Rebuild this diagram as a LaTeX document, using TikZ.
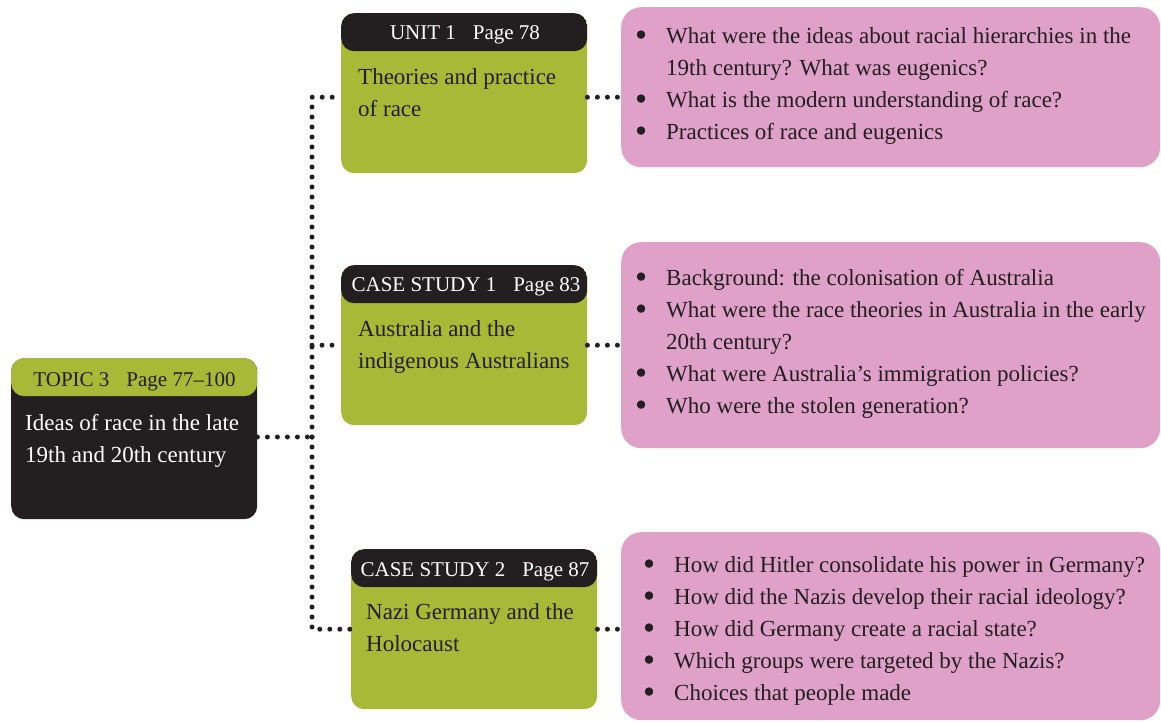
\documentclass[tikz,border=0pt]{standalone}
\usepackage{fontspec}
\setmainfont{Liberation Serif}
\definecolor{dk}{HTML}{231F20}
\definecolor{gr}{HTML}{A6BA37}
\definecolor{pk}{HTML}{DFA1C8}
\newcommand{\bul}{\makebox[30pt][l]{\hspace*{-1pt}\raisebox{-2.6pt}{\scalebox{1.5}{\textbullet}}}}
\newcommand{\ind}{\hspace*{30pt}}
\begin{document}
\begin{tikzpicture}[x=1pt,y=-1pt,
  card/.style={draw=none, rounded corners=13pt, minimum width=246pt, minimum height=160pt, anchor=north west, inner sep=0pt},
  greencard/.style={card, fill=gr, path picture={\fill[dk] (path picture bounding box.north west) rectangle ([yshift=-38pt]path picture bounding box.north east);}},
  darkcard/.style={card, fill=dk, path picture={\fill[gr] (path picture bounding box.north west) rectangle ([yshift=-38pt]path picture bounding box.north east);}},
  pinkbox/.style={fill=pk, rounded corners=20pt, anchor=north west, inner sep=0pt, minimum width=539pt},
  hdr/.style={font=\fontsize{21}{24}\selectfont, anchor=base, inner sep=0pt},
  body/.style={font=\fontsize{23}{32}\selectfont, align=left, anchor=north west, inner sep=0pt, text=dk},
  dots/.style={draw=dk, line width=5pt, line cap=round, dash pattern=on 0pt off 10pt}
]
\useasboundingbox (0,0) rectangle (1161,722);

% cards
\node[darkcard, minimum height=161pt] (topic) at (11,358) {};
\node[greencard] (u1) at (341,13) {};
\node[greencard] (cs1) at (341,265) {};
\node[greencard] (cs2) at (351,549) {};

% pink boxes
\node[pinkbox, minimum height=160pt] (p1) at (621,7) {};
\node[pinkbox, minimum height=206pt] (p2) at (621,242) {};
\node[pinkbox, minimum height=188pt] (p3) at (621,532) {};

% headers
\node[hdr, text=dk] (topich) at (134.5,386) {TOPIC 3\hspace{17pt}Page 77--100};
\node[hdr, text=white] (u1h) at (465,40) {UNIT 1\hspace{17pt}Page 78};
\node[hdr, text=white] (cs1h) at (466,291) {CASE STUDY 1\hspace{17pt}Page 83};
\node[hdr, text=white] (cs2h) at (475,576) {CASE STUDY 2\hspace{17pt}Page 87};

% card bodies
\node[body, text=white] (topicb) at (25,408) {\strut Ideas of race in the late\\19th and 20th century};
\node[body] (u1b) at (358,62) {\strut Theories and practice\\of race};
\node[body] (cs1b) at (358,314) {\strut Australia and the\\indigenous Australians};
\node[body] (cs2b) at (366,597) {\strut Nazi Germany and the\\Holocaust};

% pink texts
\node[body] (p1t) at (636,21) {\strut\bul What were the ideas about racial hierarchies in the\\
\ind 19th century? What was eugenics?\\
\bul What is the modern understanding of race?\\
\bul Practices of race and eugenics};
\node[body] (p2t) at (636,263) {\strut\bul Background: the colonisation of Australia\\
\bul What were the race theories in Australia in the early\\
\ind 20th century?\\
\bul What were Australia's immigration policies?\\
\bul Who were the stolen generation?};
\node[body] (p3t) at (644,550) {\strut\bul How did Hitler consolidate his power in Germany?\\
\bul How did the Nazis develop their racial ideology?\\
\bul How did Germany create a racial state?\\
\bul Which groups were targeted by the Nazis?\\
\bul Choices that people made};

% connectors
\coordinate (j) at (312,437);
\draw[dots] (topic.east |- j) -- (j);
\draw[dots] (j) |- ([yshift=-4pt]u1.west);
\draw[dots] (j) |- (cs2.west);
\draw[dots] (j |- cs1.west) -- (cs1.west);
\draw[dots] ([yshift=-4pt]u1.east) -- ([yshift=-4pt]u1.east -| p1.west);
\draw[dots] (cs1.east) -- (cs1.east -| p2.west);
\draw[dots] (cs2.east) -- (cs2.east -| p3.west);
\end{tikzpicture}
\end{document}
